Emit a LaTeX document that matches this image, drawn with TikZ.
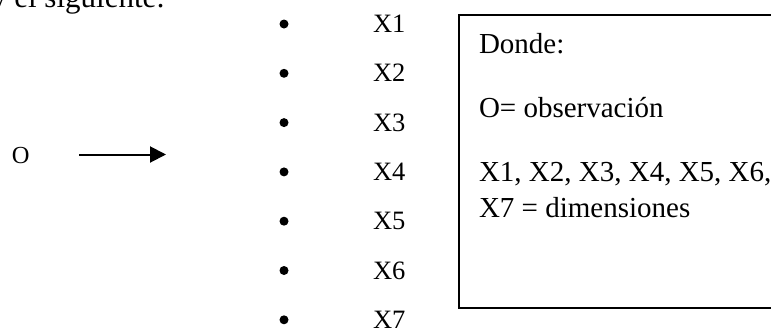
\documentclass[tikz,border=0pt]{standalone}
\usepackage{fontspec}
\setmainfont{Liberation Serif}
\usetikzlibrary{arrows.meta}
\begin{document}
\begin{tikzpicture}[x=1pt,y=-1pt,
  txt/.style={anchor=base west,inner sep=0pt,outer sep=0pt},
  listlbl/.style={txt,font=\fontsize{26.5}{30}\selectfont},
  boxtxt/.style={txt,font=\fontsize{29}{34}\selectfont},
  bul/.style={circle,fill=black,inner sep=0pt,minimum size=9pt},
  frame/.style={draw=black,line width=1.5pt,anchor=north west,inner sep=0pt,minimum width=340pt,minimum height=293pt}]
\useasboundingbox (0,0) rectangle (771,327);
% top text (cut)
\node[txt,font=\fontsize{31}{36}\selectfont,anchor=base east] (top) at (165,7) {y el siguiente:};
% O and arrow
\node[txt,font=\fontsize{24.5}{28}\selectfont] (o) at (12,163) {O};
\coordinate (a1) at (79,154.5);
\coordinate (a2) at (166,154.5);
\draw[line width=2pt,-{Triangle[length=16pt,width=16pt]}] (a1) -- (a2);
% list
\foreach \i in {1,...,7}{
  \node[bul] (b\i) at (284,{24+49.3*(\i-1)}) {};
  \node[listlbl] (x\i) at (373,{32.5+49.3*(\i-1)}) {X\i};
}
% box
\node[frame] (box) at (458,14) {};
\node[boxtxt] (t1) at (479,53) {Donde:};
\node[boxtxt] (t2) at (479,117) {O= observación};
\node[boxtxt] (t3) at (479,181) {X1, X2, X3, X4, X5, X6,};
\node[boxtxt] (t4) at (479,217) {X7 = dimensiones};
\end{tikzpicture}
\end{document}
